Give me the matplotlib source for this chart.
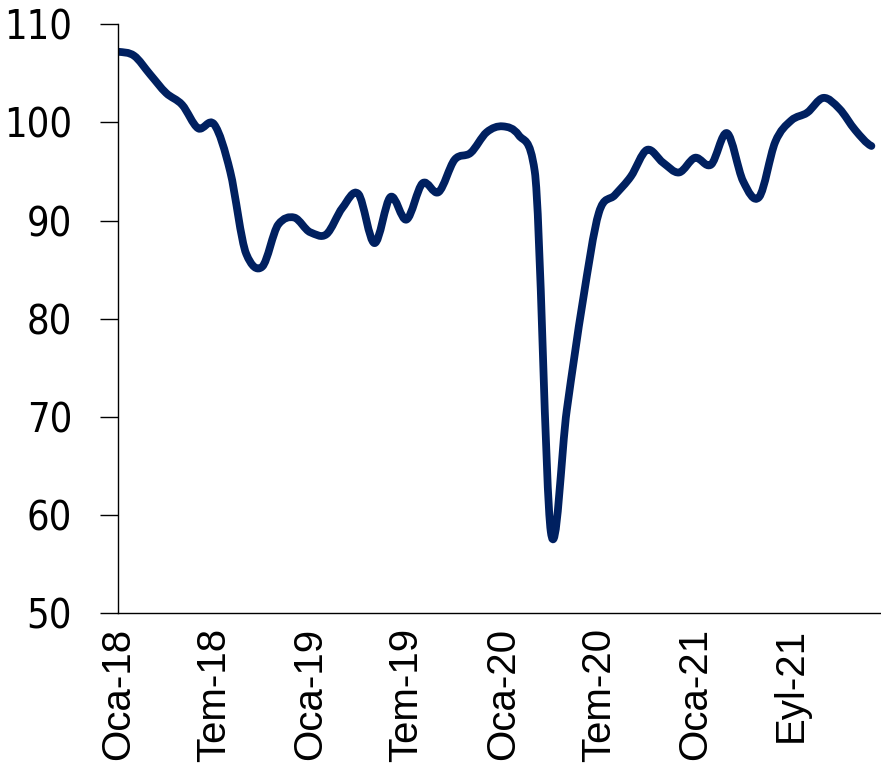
import matplotlib
matplotlib.use("Agg")
import matplotlib.pyplot as plt
from matplotlib.path import Path
from matplotlib.patches import PathPatch

# monthly index, Oca-18 onwards
values = [107.2, 106.8, 104.9, 103.0, 101.8, 99.4, 99.8, 95.0, 86.6, 85.3,
          89.6, 90.3, 88.8, 88.6, 91.3, 92.7, 87.7, 92.4, 90.1, 93.8,
          92.9, 96.2, 96.9, 99.0, 99.6, 98.7, 95.0, 58.3, 70.7, 81.8,
          90.8, 92.6, 94.5, 97.2, 95.9, 94.9, 96.4, 95.7, 98.9, 94.0,
          92.4, 98.0, 100.2, 101.0, 102.5, 101.4, 99.2, 97.6]
tick_pos = [0, 6, 12, 18, 24, 30, 36, 42]
tick_labels = ["Oca-18", "Tem-18", "Oca-19", "Tem-19", "Oca-20", "Tem-20", "Oca-21", "Eyl-21"]
y_ticks = [50, 60, 70, 80, 90, 100, 110]


def smooth_path(y):
    # smoothed line like excel: bezier through each point,
    # tangents clamped on steep monotone runs so it doesn't bulge
    n = len(y)
    m = []
    for i in range(n):
        a = y[max(i - 1, 0)]
        b = y[min(i + 1, n - 1)]
        t = (b - a) / 2
        if 0 < i < n - 1:
            d0 = y[i] - y[i - 1]
            d1 = y[i + 1] - y[i]
            if d0 * d1 > 0:
                lim = 3 * min(abs(d0), abs(d1))
                if abs(t) > lim:
                    t = lim if t > 0 else -lim
        m.append(t)
    verts = [(0, y[0])]
    codes = [Path.MOVETO]
    for i in range(n - 1):
        verts += [(i + 1 / 3, y[i] + m[i] / 3),
                  (i + 2 / 3, y[i + 1] - m[i + 1] / 3),
                  (i + 1, y[i + 1])]
        codes += [Path.CURVE4] * 3
    return Path(verts, codes)


fig = plt.figure(figsize=(8.81, 7.67), dpi=100)
ax = fig.add_axes([118 / 881, 1 - 613 / 767, 1 - 118 / 881, (613 - 24.3) / 767])

line = PathPatch(smooth_path(values), fill=False, edgecolor="#002060",
                 linewidth=5.6, capstyle="round", joinstyle="round")
ax.add_patch(line)

ax.set_xlim(0, 47.6)
ax.set_ylim(50, 110)
ax.set_xticks(tick_pos)
ax.set_xticklabels(tick_labels, rotation=90, fontsize=29, family="Liberation Sans")
ax.set_yticks(y_ticks)
ax.set_yticklabels([str(v) for v in y_ticks], fontsize=28.5,
                   family="DejaVu Sans", stretch="condensed")

ax.tick_params(axis="x", length=0, pad=11)
ax.tick_params(axis="y", length=13, width=1.0, pad=20, direction="out")
for side in ["top", "right"]:
    ax.spines[side].set_visible(False)
for side in ["left", "bottom"]:
    ax.spines[side].set_linewidth(1.0)
    ax.spines[side].set_color("black")

fig.savefig("out.png", dpi=100)
